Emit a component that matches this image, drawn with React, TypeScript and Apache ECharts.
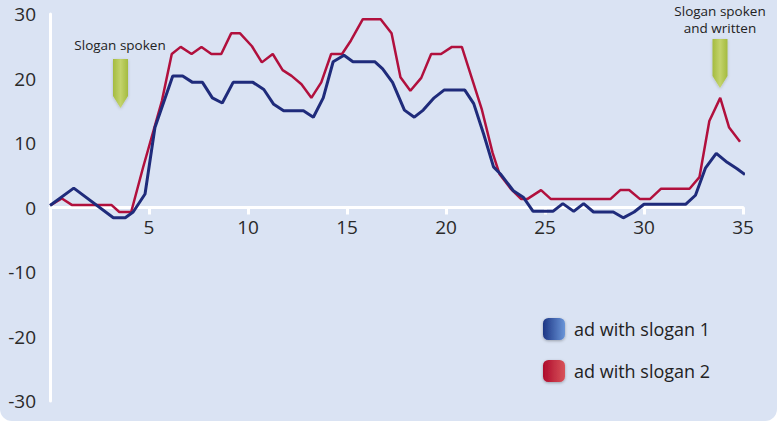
import React, { useEffect, useRef } from "react";
import * as echarts from "echarts";

const xTicks = [0, 5, 10, 15, 20, 25, 30, 35];
const yTicks = [-30, -20, -10, 0, 10, 20, 30];

const seriesNames = ["ad with slogan 1", "ad with slogan 2"];

const blueX = [0, 1.2, 3.2, 3.8, 4.2, 4.8, 5.3, 6.2, 6.7, 7.2, 7.7, 8.2, 8.7, 9.25, 10.25, 10.8, 11.3, 11.8, 12.8, 13.3, 13.8, 14.3, 14.85, 15.3, 16.4, 16.8, 17.3, 17.9, 18.4, 18.85, 19.4, 19.9, 20.95, 21.4, 21.9, 22.4, 22.75, 23.4, 23.9, 24.4, 25.4, 25.9, 26.45, 26.95, 27.45, 28.45, 28.95, 29.5, 30.0, 32.1, 32.6, 33.1, 33.65, 34.2, 34.7, 35.1];
const blueY = [0.3, 3.0, -1.6, -1.6, -0.7, 2.1, 12.4, 20.4, 20.4, 19.4, 19.4, 17.0, 16.2, 19.4, 19.4, 18.3, 16.0, 15.0, 15.0, 14.0, 17.0, 22.6, 23.6, 22.6, 22.6, 21.5, 19.4, 15.1, 14.0, 15.1, 17.0, 18.2, 18.2, 16.1, 11.4, 6.3, 5.2, 2.6, 1.6, -0.6, -0.6, 0.6, -0.6, 0.6, -0.7, -0.7, -1.6, -0.7, 0.5, 0.5, 1.9, 6.1, 8.4, 7.0, 6.0, 5.1];

const redX = [0.05, 0.6, 1.1, 3.1, 3.5, 4.1, 4.7, 5.65, 6.15, 6.6, 7.15, 7.65, 8.15, 8.65, 9.15, 9.6, 10.2, 10.7, 11.25, 11.75, 12.2, 12.7, 13.2, 13.7, 14.2, 14.75, 15.2, 15.8, 16.7, 17.25, 17.7, 18.2, 18.75, 19.25, 19.75, 20.3, 20.8, 21.3, 21.8, 22.35, 22.7, 23.3, 23.8, 24.1, 24.8, 25.3, 28.3, 28.8, 29.25, 29.8, 30.3, 30.85, 32.3, 32.8, 33.3, 33.85, 34.3, 34.85];
const redY = [0.4, 1.4, 0.4, 0.4, -0.7, -0.7, 6.2, 16.5, 23.8, 24.9, 23.8, 24.9, 23.8, 23.8, 27.0, 27.0, 25.0, 22.5, 23.8, 21.3, 20.4, 19.1, 17.0, 19.4, 23.8, 23.8, 25.9, 29.2, 29.2, 27.0, 20.2, 18.1, 20.1, 23.8, 23.8, 24.9, 24.9, 20.1, 15.3, 8.5, 5.2, 2.8, 1.3, 1.3, 2.7, 1.3, 1.3, 2.7, 2.7, 1.3, 1.3, 2.9, 2.9, 4.7, 13.4, 17.0, 12.4, 10.2];

const annotation1 = "Slogan spoken";
const annotation2 = ["Slogan spoken", "and written"];

const FONT = "'Open Sans', 'Noto Sans', sans-serif";

export default function App() {
  const ref = useRef<HTMLDivElement>(null);
  useEffect(() => {
    document.body.style.margin = "0";
    const chart = echarts.init(ref.current!, null, { renderer: "svg" });
    const arrowFill = new echarts.graphic.LinearGradient(0, 0, 1, 0, [
      { offset: 0, color: "#a4bb3f" },
      { offset: 0.5, color: "#c3d36b" },
      { offset: 1, color: "#a4bb3f" },
    ]);
    const arrow = (x: number, y: number, h: number) => ({
      type: "polygon",
      shape: {
        points: [
          [x, y],
          [x + 15, y],
          [x + 15, y + h - 12],
          [x + 7.5, y + h],
          [x, y + h - 12],
        ],
      },
      style: {
        fill: arrowFill,
        shadowBlur: 3,
        shadowColor: "rgba(0,0,0,0.2)",
        shadowOffsetY: 1,
      },
    });
    const label = (text: string, x: number, y: number) => ({
      type: "text",
      x,
      y,
      style: {
        text,
        fontSize: 13.5,
        lineHeight: 14,
        fontFamily: FONT,
        fill: "#222222",
        align: "center",
        verticalAlign: "middle",
      },
    });
    chart.setOption({
      animation: false,
      backgroundColor: "transparent",
      grid: { left: 50, right: 34, top: 14, bottom: 20, containLabel: false },
      xAxis: {
        type: "value",
        min: xTicks[0],
        max: xTicks[xTicks.length - 1],
        interval: 5,
        axisLine: { show: true, onZero: true, lineStyle: { color: "#ffffff", width: 3 } },
        axisTick: { show: true, length: 7, lineStyle: { color: "#ffffff", width: 3 } },
        axisLabel: {
          margin: -184,
          fontSize: 19,
          fontFamily: FONT,
          color: "#2a2a2a",
          formatter: (v: number) => (v === 0 ? "" : String(v)),
        },
        splitLine: { show: false },
      },
      yAxis: {
        type: "value",
        min: yTicks[0],
        max: yTicks[yTicks.length - 1],
        interval: 10,
        axisLine: { show: true, lineStyle: { color: "#ffffff", width: 3 } },
        axisTick: { show: false },
        axisLabel: { margin: 14, align: "right", fontSize: 19, fontFamily: FONT, color: "#2a2a2a" },
        splitLine: { show: false },
      },
      legend: {
        orient: "vertical",
        left: 543,
        top: 318,
        padding: 0,
        itemWidth: 22,
        itemHeight: 22,
        itemGap: 20,
        icon: "roundRect",
        textStyle: { fontSize: 18, fontFamily: FONT, color: "#222222", padding: [0, 0, 0, 4] },
        itemStyle: { borderWidth: 0 },
        data: [
          {
            name: seriesNames[0],
            itemStyle: {
              color: new echarts.graphic.LinearGradient(0, 0, 1, 0, [
                { offset: 0, color: "#1c3584" },
                { offset: 1, color: "#6a95d8" },
              ]),
              borderWidth: 0,
              shadowBlur: 3,
              shadowColor: "rgba(0,0,0,0.3)",
              shadowOffsetY: 1,
            },
          },
          {
            name: seriesNames[1],
            itemStyle: {
              color: new echarts.graphic.LinearGradient(0, 0, 1, 0, [
                { offset: 0, color: "#ae0a2c" },
                { offset: 1, color: "#d8535a" },
              ]),
              borderWidth: 0,
              shadowBlur: 3,
              shadowColor: "rgba(0,0,0,0.3)",
              shadowOffsetY: 1,
            },
          },
        ],
      },
      series: [
        {
          name: seriesNames[0],
          type: "line",
          data: blueX.map((x, i) => [x, blueY[i]]),
          showSymbol: false,
          symbol: "none",
          lineStyle: { color: "#1f2b7b", width: 3 },
          itemStyle: { color: "#1f2b7b" },
          z: 3,
        },
        {
          name: seriesNames[1],
          type: "line",
          data: redX.map((x, i) => [x, redY[i]]),
          showSymbol: false,
          symbol: "none",
          lineStyle: { color: "#b1103d", width: 2.5 },
          itemStyle: { color: "#b1103d" },
          z: 2,
        },
      ],
      graphic: [
        arrow(113, 59, 49),
        arrow(712.5, 39, 49),
        label(annotation1, 120, 45),
        label(annotation2[0], 720, 11),
        label(annotation2[1], 720, 28),
      ],
    });
    return () => chart.dispose();
  }, []);
  return (
    <div
      ref={ref}
      style={{
        position: "fixed",
        left: 0,
        top: 0,
        width: 777,
        height: 421,
        background: "#dae3f3",
        borderRadius: "0 0 12px 12px",
      }}
    />
  );
}
